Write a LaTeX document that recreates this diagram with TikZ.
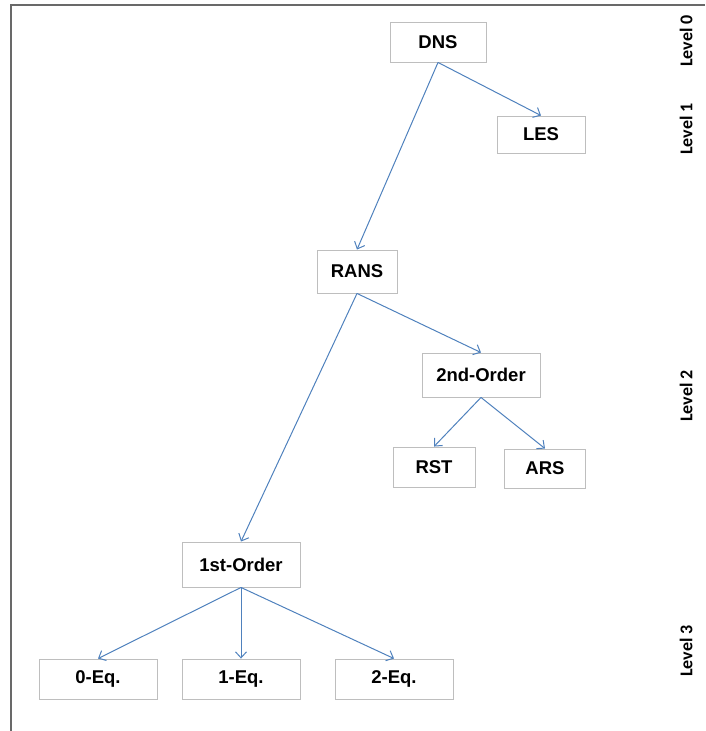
\documentclass[tikz,border=0pt]{standalone}
\usepackage{fontspec}
\setmainfont{Liberation Sans}
\newfontfamily\lvlfont{Carlito}
\usetikzlibrary{arrows.meta,positioning}
\definecolor{arrowblue}{RGB}{79,129,189}
\definecolor{boxgray}{RGB}{190,190,190}
\definecolor{framegray}{RGB}{105,105,105}

\begin{document}
\begin{tikzpicture}[x=1pt, y=-1pt, >={Straight Barb[length=6pt,width=11pt]}]
    \tikzset{
        a/.style={->, draw=arrowblue, line width=1pt},
        blk/.style={draw=boxgray, line width=0.9pt, rectangle, minimum height=40pt, inner sep=0pt, font=\fontsize{18.5}{21}\selectfont\bfseries},
        lvl/.style={rotate=90, font=\lvlfont\fontsize{18}{21}\selectfont\bfseries}
    }

    \useasboundingbox (0,0) rectangle (705,731);
    \draw [framegray, line width=2pt] (11,731) -- (11,5) -- (705,5);

    % level 0 and 1
    \node [blk, minimum width=96pt] (dns) at (438,42) {DNS};
    \node [blk, minimum width=88pt, minimum height=37pt] (les) at (541,134.5) {LES};

    % level 2
    \node [blk, minimum width=80pt, minimum height=43pt] (rans) at (357,271.5) {RANS};
    \node [blk, minimum width=118pt, minimum height=44pt] (second) at (481,375) {2nd-Order};
    \node [blk, minimum width=82pt] (rst) at (434,467) {RST};
    \node [blk, minimum width=81pt, minimum height=39pt] (ars) at (545,468.5) {ARS};

    % level 3
    \node [blk, minimum width=118pt, minimum height=45pt] (first) at (241,564.5) {1st-Order};
    \node [blk, minimum width=118pt] (zeroeq) at (98,679) {0-Eq.};
    \node [blk, minimum width=118pt] (oneeq) at (241,679) {1-Eq.};
    \node [blk, minimum width=118pt] (twoeq) at (394,679) {2-Eq.};

    \draw [a] (dns.south) -- (les.north);
    \draw [a] (dns.south) -- (rans.north);
    \draw [a] (rans.south) -- (second.north);
    \draw [a] (rans.south) -- (first.north);
    \draw [a] (second.south) -- (rst.north);
    \draw [a] (second.south) -- (ars.north);
    \draw [a] (first.south) -- (zeroeq.north);
    \draw [a] (first.south) -- (oneeq.north);
    \draw [a] (first.south) -- (twoeq.north);

    % level labels
    \node [lvl] (lvl0) at (686,41) {Level 0};
    \node [lvl] (lvl1) at (686,129) {Level 1};
    \node [lvl] (lvl2) at (686,396) {Level 2};
    \node [lvl] (lvl3) at (686,651) {Level 3};
\end{tikzpicture}
\end{document}
